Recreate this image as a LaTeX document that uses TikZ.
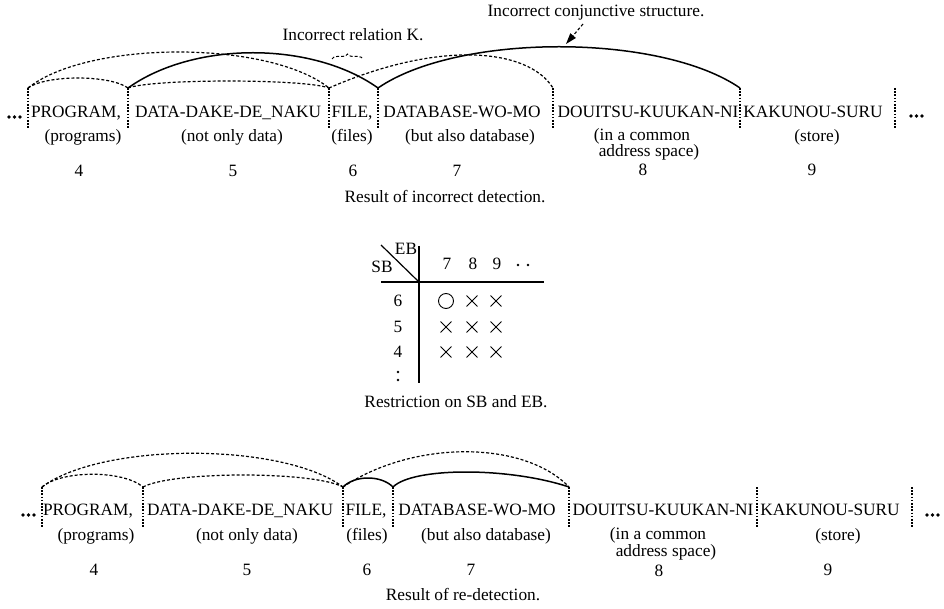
\documentclass[tikz,border=0pt]{standalone}
\usepackage{fontspec}
\setmainfont{Liberation Serif}
\usetikzlibrary{arrows.meta,decorations.pathreplacing,shapes.misc}

\begin{document}
\begin{tikzpicture}[x=1pt,y=-1pt,
  every node/.style={font=\fontsize{17.3}{18}\selectfont, inner sep=0pt},
  txt/.style={anchor=base},
  sepline/.style={line width=1.1pt, dash pattern=on 1.6pt off 1.6pt},
  deparc/.style={line width=1.2pt, dash pattern=on 3pt off 2pt},
  linkarc/.style={line width=1.5pt},
  grid/.style={line width=1.4pt},
  cross/.style={cross out, draw, line width=0.9pt, minimum size=10pt},
  okmark/.style={circle, draw, line width=0.9pt, minimum size=15pt},
  dotfill/.style={fill, circle, minimum size=3.8pt},
  smalldot/.style={fill, circle, minimum size=2.6pt},
]
\useasboundingbox (0,0) rectangle (944,609);

% ---------------- upper analysis ----------------
\foreach \i/\x in {1/28,2/128,3/329,4/378,5/553,6/740,7/895}{
  \coordinate (s\i) at (\x,88);
  \coordinate (sb\i) at (\x,128);
  \draw[sepline] (s\i) -- (sb\i);
}
\foreach \i/\x in {1/9,2/14.5,3/20}{\node[dotfill] (ld\i) at (\x,117) {};}
\foreach \i/\x in {1/911,2/916.5,3/922}{\node[dotfill] (rd\i) at (\x,116) {};}

\node[txt] (w4) at (76,118)  {PROGRAM,};
\node[txt] (w5) at (228,118) {DATA-DAKE-DE\_NAKU};
\node[txt] (w6) at (352,118) {FILE,};
\node[txt] (w7) at (462,118) {DATABASE-WO-MO};
\node[txt] (w8) at (648,118) {DOUITSU-KUUKAN-NI};
\node[txt] (w9) at (813,118) {KAKUNOU-SURU};

\node[txt] (g4) at (83,142)  {(programs)};
\node[txt] (g5) at (232,142) {(not only data)};
\node[txt] (g6) at (352,142) {(files)};
\node[txt] (g7) at (470,142) {(but also database)};
\node[txt] (g8) at (642,141) {(in a common};
\node[txt] (g8b) at (649,157) {address space)};
\node[txt] (g9) at (817,142) {(store)};

\node[txt] (n4) at (79,177)  {4};
\node[txt] (n5) at (233,177) {5};
\node[txt] (n6) at (353,177) {6};
\node[txt] (n7) at (457,177) {7};
\node[txt] (n8) at (643,176) {8};
\node[txt] (n9) at (812,176) {9};

% dependency arcs
\draw[deparc]  (s1) .. controls +(60,-48) and +(-60,-48) .. (s3);
\draw[deparc]  (s1) .. controls +(18,-13.3) and +(-18,-13.3) .. (s2);
\draw[deparc]  (s2) .. controls +(25,-9.3) and +(-25,-9.3) .. (s3);
\draw[deparc]  (s3) .. controls +(110,-48) and +(-25,-40) .. (s5);
\draw[linkarc] (s2) .. controls +(66,-47) and +(-66,-47) .. (s4);
\draw[linkarc] (s4) .. controls +(80,-55) and +(-80,-55) .. (s6);

% annotations
\coordinate (kl) at (332,59);
\coordinate (kr) at (363,59);
\draw[deparc, line width=1pt, decorate, decoration={brace, amplitude=5pt}] (kl) -- (kr);
\node[txt] (relK) at (353,41) {Incorrect relation K.};
\node[txt] (conj) at (596,17) {Incorrect conjunctive structure.};
\coordinate (conjtail) at (583,24);
\coordinate (conjtip) at (566,44);
\draw[line width=1.1pt, dash pattern=on 3pt off 2pt,
      -{Triangle[length=11pt,width=7pt]}] (conjtail) -- (conjtip);

\node[txt] (cap1) at (445,203) {Result of incorrect detection.};

% ---------------- SB / EB table ----------------
\coordinate (tdiag) at (381,245);
\coordinate (tcorner) at (419,282);
\coordinate (vtop) at (419,246);
\coordinate (vbot) at (419,383);
\coordinate (hleft) at (381,282);
\coordinate (hright) at (544,282);
\draw[grid] (vtop) -- (vbot);
\draw[grid] (hleft) -- (hright);
\draw[grid, line width=1.2pt] (tdiag) -- (tcorner);
\node[txt] (eb) at (406,255) {EB};
\node[txt] (sb) at (382,273) {SB};
\node[txt] (c7) at (447,270) {7};
\node[txt] (c8) at (473,270) {8};
\node[txt] (c9) at (497,270) {9};
\node[smalldot] (cd1) at (518,265) {};
\node[smalldot] (cd2) at (528,265) {};
\node[txt] (r6) at (398,307) {6};
\node[txt] (r5) at (398,332) {5};
\node[txt] (r4) at (398,357) {4};
\node[smalldot] (rd1) at (398,372) {};
\node[smalldot] (rd2) at (398,380) {};
\node[okmark] (m67) at (446,301) {};
\node[cross] (m68) at (472,301) {};
\node[cross] (m69) at (496,301) {};
\node[cross] (m57) at (446,327) {};
\node[cross] (m58) at (472,327) {};
\node[cross] (m59) at (496,327) {};
\node[cross] (m47) at (446,352) {};
\node[cross] (m48) at (472,352) {};
\node[cross] (m49) at (496,352) {};
\node[txt] (cap2) at (456,407) {Restriction on SB and EB.};

% ---------------- lower analysis ----------------
\foreach \i/\x in {1/42,2/143,3/343,4/393,5/569,6/757,7/912}{
  \coordinate (u\i) at (\x,487);
  \coordinate (ub\i) at (\x,527);
  \draw[sepline] (u\i) -- (ub\i);
}
\foreach \i/\x in {1/23,2/28.5,3/34}{\node[dotfill] (lld\i) at (\x,515) {};}
\foreach \i/\x in {1/927,2/932.5,3/938}{\node[dotfill] (rrd\i) at (\x,515) {};}

\node[txt] (v4) at (88,515)  {PROGRAM,};
\node[txt] (v5) at (240,515) {DATA-DAKE-DE\_NAKU};
\node[txt] (v6) at (366,515) {FILE,};
\node[txt] (v7) at (477,515) {DATABASE-WO-MO};
\node[txt] (v8) at (663,515) {DOUITSU-KUUKAN-NI};
\node[txt] (v9) at (830,515) {KAKUNOU-SURU};

\node[txt] (h4) at (96,540)  {(programs)};
\node[txt] (h5) at (247,540) {(not only data)};
\node[txt] (h6) at (367,540) {(files)};
\node[txt] (h7) at (486,540) {(but also database)};
\node[txt] (h8) at (658,539) {(in a common};
\node[txt] (h8b) at (666,556) {address space)};
\node[txt] (h9) at (838,540) {(store)};

\node[txt] (p4) at (94,575)  {4};
\node[txt] (p5) at (247,575) {5};
\node[txt] (p6) at (367,575) {6};
\node[txt] (p7) at (471,575) {7};
\node[txt] (p8) at (659,576) {8};
\node[txt] (p9) at (828,575) {9};

\draw[deparc]  (u1) .. controls +(60,-45) and +(-60,-45) .. (u3);
\draw[deparc]  (u1) .. controls +(20,-17) and +(-20,-17) .. (u2);
\draw[deparc]  (u2) .. controls +(30,-16) and +(-30,-16) .. (u3);
\draw[deparc]  (u3) .. controls +(70,-47) and +(-45,-47) .. (u5);
\draw[linkarc] (u3) .. controls +(12,-12) and +(-12,-12) .. (u4);
\draw[linkarc] (u4) .. controls +(20,-20) and +(-60,-20) .. (u5);

\node[txt] (cap3) at (463,600) {Result of re-detection.};
\end{tikzpicture}
\end{document}
